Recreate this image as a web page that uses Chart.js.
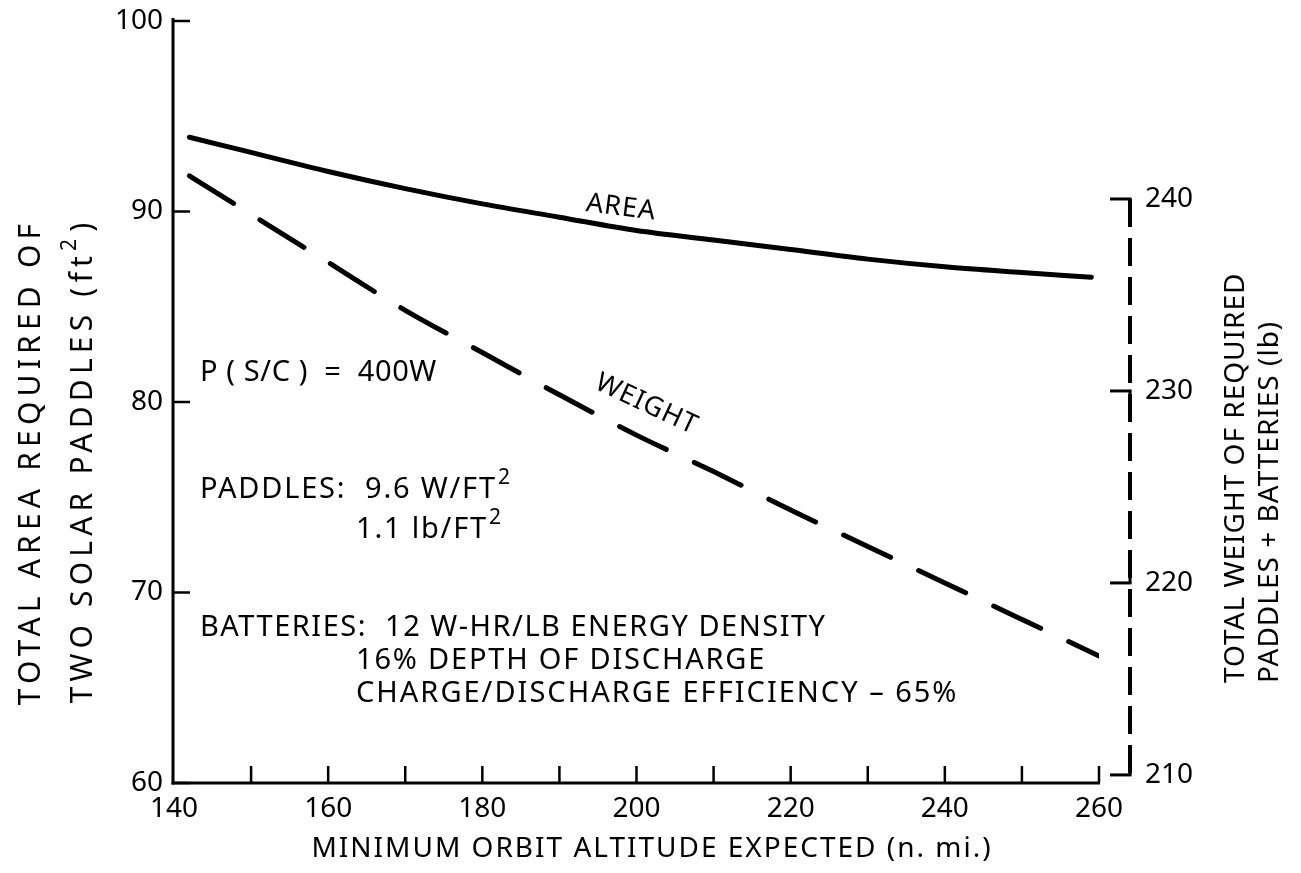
<!DOCTYPE html>
<html>
<head>
<meta charset="utf-8">
<script src="https://cdn.jsdelivr.net/npm/chart.js@4.4.1/dist/chart.umd.min.js"></script>
<style>
  html, body { margin: 0; padding: 0; background: #ffffff; }
  canvas { display: block; }
</style>
</head>
<body>
<canvas id="chart" width="1301" height="873"></canvas>
<script>
// Minimum orbit altitude (n. mi.) at which the area curve is read
const areaAltitudeNmi = [142, 150, 160, 170, 180, 190, 200, 210, 220, 230, 240, 250, 259];
// Total area required of two solar paddles (ft^2), left axis
const paddleAreaFt2 = [93.9, 93.1, 92.1, 91.2, 90.4, 89.7, 89.0, 88.5, 88.0, 87.5, 87.1, 86.8, 86.55];

// Minimum orbit altitude (n. mi.) at which the weight curve is read
const weightAltitudeNmi = [142, 150, 160, 170, 180, 190, 200, 210, 220, 230, 240, 250, 260];
// Total weight of required paddles + batteries (lb), right axis
const totalWeightLb = [241.2, 239.2, 236.7, 234.2, 232.0, 229.8, 227.7, 225.8, 223.8, 221.9, 220.0, 218.1, 216.2];

// Axis ticks
const altitudeTicks = [140, 150, 160, 170, 180, 190, 200, 210, 220, 230, 240, 250, 260];
const altitudeLabels = [140, 160, 180, 200, 220, 240, 260];
const areaTicks = [60, 70, 80, 90, 100];
const weightTicks = [210, 220, 230, 240];

// Notes printed inside the plot
const noteLines = [
  { indent: 0, y: 373, spacing: 0.6, parts: [{ t: 'P ( S/C )  =  400W' }] },
  { indent: 0, y: 490, spacing: 1.8, parts: [{ t: 'PADDLES:  9.6 W/FT' }, { t: '2', sup: true }] },
  { indent: 1, y: 530, spacing: 1.8, parts: [{ t: '1.1 lb/FT' }, { t: '2', sup: true }] },
  { indent: 0, y: 628, spacing: 1.5, parts: [{ t: 'BATTERIES:  12 W-HR/LB ENERGY DENSITY' }] },
  { indent: 1, y: 661, spacing: 1.8, parts: [{ t: '16% DEPTH OF DISCHARGE' }] },
  { indent: 1, y: 694, spacing: 2.0, parts: [{ t: 'CHARGE/DISCHARGE EFFICIENCY \u2013 65%' }] }
];

const FONT = '"Noto Sans", "DejaVu Sans", sans-serif';
const INK = '#000000';

function setSpacing(ctx, px) {
  if ('letterSpacing' in ctx) ctx.letterSpacing = px + 'px';
}

function drawRich(ctx, parts, x, y, size) {
  let cx = x;
  for (const p of parts) {
    if (p.sup) {
      ctx.font = `${Math.round(size * 0.72)}px ${FONT}`;
      ctx.fillText(p.t, cx + 1, y - size * 0.42);
    } else {
      ctx.font = `${size}px ${FONT}`;
      ctx.fillText(p.t, cx, y);
    }
    cx += ctx.measureText(p.t).width;
  }
}

// Hand-drawn style frame, inward ticks, axis titles and notes
const framePlugin = {
  id: 'frame',
  afterDatasetsDraw(chart) {
    const ctx = chart.ctx;
    const xs = chart.scales.x;
    const ya = chart.scales.yArea;
    const yw = chart.scales.yWeight;
    const x0 = xs.getPixelForValue(140);
    const x1 = xs.getPixelForValue(260);
    const yBottom = ya.getPixelForValue(60);

    ctx.save();
    ctx.strokeStyle = INK;
    ctx.fillStyle = INK;
    ctx.lineCap = 'butt';

    // left axis
    ctx.lineWidth = 3;
    ctx.beginPath();
    ctx.moveTo(x0 - 1, ya.getPixelForValue(100) - 3);
    ctx.lineTo(x0 - 1, yBottom + 1.5);
    ctx.stroke();
    // bottom axis
    ctx.beginPath();
    ctx.moveTo(x0 - 2.5, yBottom);
    ctx.lineTo(x1 + 1, yBottom);
    ctx.stroke();

    // left ticks (pointing right)
    ctx.lineWidth = 2.5;
    for (const v of areaTicks) {
      const y = ya.getPixelForValue(v);
      ctx.beginPath();
      ctx.moveTo(x0, y);
      ctx.lineTo(x0 + 16, y);
      ctx.stroke();
    }
    // bottom ticks (pointing up)
    for (const v of altitudeTicks) {
      if (v === 140) continue;
      const x = xs.getPixelForValue(v);
      ctx.beginPath();
      ctx.moveTo(x, yBottom);
      ctx.lineTo(x, yBottom - 17);
      ctx.stroke();
    }

    // right axis, dashed, offset from the plot
    const xr = x1 + 31;
    ctx.lineWidth = 4;
    ctx.setLineDash([28, 11]);
    ctx.beginPath();
    ctx.moveTo(xr, yw.getPixelForValue(240));
    ctx.lineTo(xr, yw.getPixelForValue(210));
    ctx.stroke();
    ctx.setLineDash([]);
    ctx.lineWidth = 3;
    for (const v of weightTicks) {
      const y = yw.getPixelForValue(v);
      ctx.beginPath();
      ctx.moveTo(xr - 20, y);
      ctx.lineTo(xr + 1.5, y);
      ctx.stroke();
      ctx.beginPath();
      const dir = v >= 230 ? 1 : -1;
      ctx.moveTo(xr, y);
      ctx.lineTo(xr, y + dir * 14);
      ctx.stroke();
    }

    // curve labels
    ctx.textAlign = 'center';
    ctx.textBaseline = 'middle';
    ctx.font = `27px ${FONT}`;
    setSpacing(ctx, 1);
    ctx.save();
    ctx.translate(xs.getPixelForValue(198), ya.getPixelForValue(90.2));
    ctx.rotate(7 * Math.PI / 180);
    ctx.fillText('AREA', 0, 0);
    ctx.restore();
    ctx.save();
    ctx.translate(xs.getPixelForValue(201.3), yw.getPixelForValue(229.3));
    ctx.rotate(25 * Math.PI / 180);
    ctx.fillText('WEIGHT', 0, 0);
    ctx.restore();

    // notes
    ctx.textAlign = 'left';
    ctx.textBaseline = 'middle';
    for (const line of noteLines) {
      setSpacing(ctx, line.spacing);
      drawRich(ctx, line.parts, line.indent ? 356 : 200, line.y, 29);
    }

    // left axis title (two lines, reading upward)
    ctx.font = `30px ${FONT}`;
    setSpacing(ctx, 5.2);
    const midL = 462;
    ctx.textAlign = 'center';
    ctx.save();
    ctx.translate(31, midL);
    ctx.rotate(-Math.PI / 2);
    ctx.fillText('TOTAL AREA REQUIRED OF', 0, 0);
    ctx.restore();
    ctx.save();
    ctx.translate(83, midL);
    ctx.rotate(-Math.PI / 2);
    ctx.textAlign = 'left';
    const l2 = 'TWO SOLAR PADDLES (ft';
    const l2w = ctx.measureText(l2 + ')').width + 16;
    ctx.fillText(l2, -l2w / 2, 0);
    let w = ctx.measureText(l2).width;
    ctx.font = `21px ${FONT}`;
    ctx.fillText('2', -l2w / 2 + w, -13);
    w += ctx.measureText('2').width + 2;
    ctx.font = `30px ${FONT}`;
    ctx.fillText(')', -l2w / 2 + w, 0);
    ctx.restore();

    // right axis title
    ctx.font = `28px ${FONT}`;
    setSpacing(ctx, 1);
    ctx.textAlign = 'left';
    ctx.save();
    ctx.translate(1236, 683);
    ctx.rotate(-Math.PI / 2);
    ctx.fillText('TOTAL WEIGHT OF REQUIRED', 0, 0);
    ctx.restore();
    ctx.save();
    ctx.translate(1270, 683);
    ctx.rotate(-Math.PI / 2);
    ctx.fillText('PADDLES + BATTERIES (lb)', 0, 0);
    ctx.restore();

    // bottom axis title
    setSpacing(ctx, 2);
    ctx.textAlign = 'center';
    ctx.fillText('MINIMUM ORBIT ALTITUDE EXPECTED (n. mi.)', 652, 849);

    ctx.restore();
  }
};

// keep vertical axes from reserving extra room above/below the plot
function noVerticalPadding(s) {
  s.paddingTop = 0;
  s.paddingBottom = 0;
}

const chart = new Chart(document.getElementById('chart'), {
  type: 'line',
  data: {
    datasets: [
      {
        label: 'AREA',
        data: areaAltitudeNmi.map((a, i) => ({ x: a, y: paddleAreaFt2[i] })),
        yAxisID: 'yArea',
        borderColor: INK,
        borderWidth: 5,
        borderCapStyle: 'round',
        borderJoinStyle: 'round',
        cubicInterpolationMode: 'monotone',
        pointRadius: 0,
        fill: false
      },
      {
        label: 'WEIGHT',
        data: weightAltitudeNmi.map((a, i) => ({ x: a, y: totalWeightLb[i] })),
        yAxisID: 'yWeight',
        borderColor: INK,
        borderWidth: 5,
        borderDash: [52, 31],
        borderCapStyle: 'round',
        cubicInterpolationMode: 'monotone',
        pointRadius: 0,
        fill: false
      }
    ]
  },
  options: {
    responsive: false,
    devicePixelRatio: 1,
    animation: false,
    events: [],
    layout: { padding: { top: 21, left: 0, right: 0, bottom: 0 } },
    plugins: { legend: { display: false }, tooltip: { enabled: false }, title: { display: false } },
    scales: {
      x: {
        type: 'linear',
        min: 140,
        max: 260,
        grid: { display: false, drawTicks: false },
        border: { display: false },
        ticks: {
          stepSize: 10,
          padding: 9,
          color: INK,
          font: { family: FONT, size: 28 },
          maxRotation: 0,
          autoSkip: false,
          callback: (v) => altitudeLabels.includes(v) ? String(v) : ''
        },
        afterBuildTicks: (s) => { s.ticks = altitudeTicks.map((v) => ({ value: v })); },
        afterFit: (s) => { s.height = 873 - 783; s.paddingLeft = 0; s.paddingRight = 0; }
      },
      yArea: {
        type: 'linear',
        position: 'left',
        min: 60,
        max: 100,
        grid: { display: false, drawTicks: false },
        border: { display: false },
        ticks: { padding: 11, color: INK, font: { family: FONT, size: 28 } },
        afterBuildTicks: (s) => { s.ticks = areaTicks.map((v) => ({ value: v })); },
        afterFit: (s) => { s.width = 174; noVerticalPadding(s); }
      },
      yWeight: {
        type: 'linear',
        position: 'right',
        min: 209.58,
        max: 249.27,
        grid: { display: false, drawTicks: false },
        border: { display: false },
        ticks: { padding: 46, color: INK, font: { family: FONT, size: 28 } },
        afterBuildTicks: (s) => { s.ticks = weightTicks.map((v) => ({ value: v })); },
        afterFit: (s) => { s.width = 1301 - 1099; noVerticalPadding(s); }
      }
    }
  },
  plugins: [framePlugin]
});
</script>
</body>
</html>
